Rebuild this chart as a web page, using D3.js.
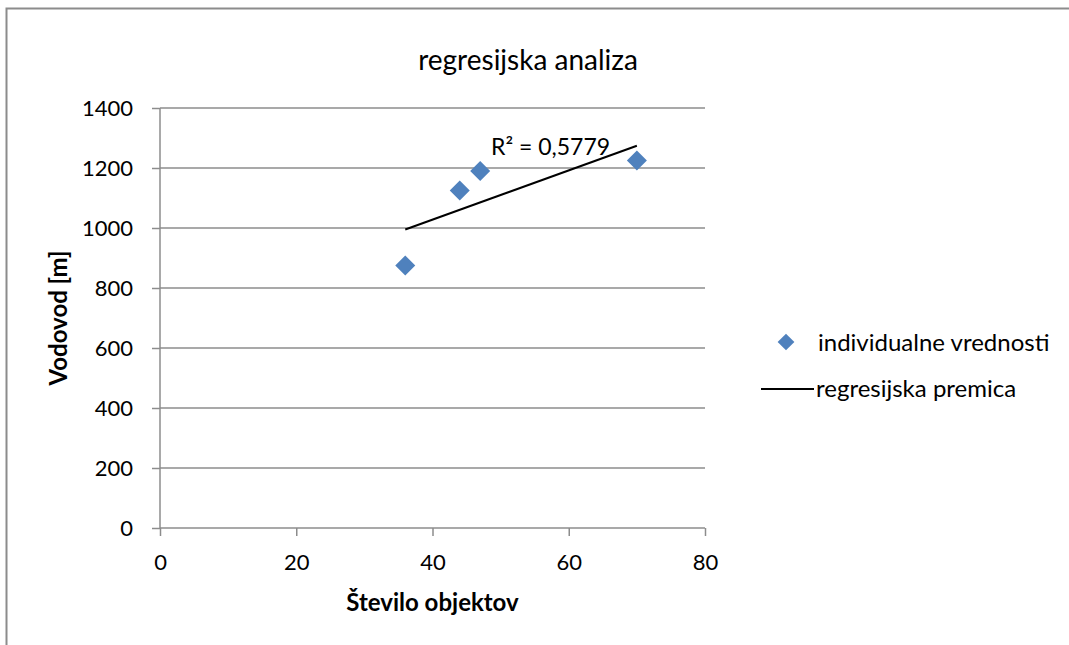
<!DOCTYPE html>
<html><head><meta charset="utf-8">
<script src="https://cdn.jsdelivr.net/npm/d3@7"></script>
<style>
body{margin:0;background:#fff;}
text{font-family:Lato,"Open Sans",sans-serif;fill:#000;}
</style></head>
<body><svg id="c" width="1069" height="645"></svg>
<script>
const title = "regresijska analiza";
const xTitle = "Število objektov";
const yTitle = "Vodovod [m]";
const xTicks = [0, 20, 40, 60, 80];
const yTicks = [0, 200, 400, 600, 800, 1000, 1200, 1400];
const objekti = [36, 44, 47, 70];
const vodovod = [875, 1125, 1190, 1225];
const trendX = [36, 70];
const trendY = [995, 1274];
const r2Label = "R² = 0,5779";
const legendLabels = ["individualne vrednosti", "regresijska premica"];

const svg = d3.select("#c");
svg.append("rect").attr("x",6.5).attr("y",8.5).attr("width",1080).attr("height",660)
  .attr("fill","none").attr("stroke","#8c8c8c").attr("stroke-width",2);

const x = d3.scaleLinear().domain([0,80]).range([160,705]);
const y = d3.scaleLinear().domain([0,1400]).range([528,108]);

// gridlines
svg.append("g").selectAll("line").data(yTicks.filter(d=>d>0)).join("line")
  .attr("x1",x(0)).attr("x2",x(80)).attr("y1",d=>y(d)).attr("y2",d=>y(d))
  .attr("stroke","#8c8c8c").attr("stroke-width",1.5);

const fmt = d3.format("d");
const xa = svg.append("g").attr("transform",`translate(0,${y(0)})`)
  .call(d3.axisBottom(x).tickValues(xTicks).tickFormat(fmt).tickSize(8).tickPadding(18));
const ya = svg.append("g").attr("transform",`translate(${x(0)},0)`)
  .call(d3.axisLeft(y).tickValues(yTicks).tickFormat(fmt).tickSize(8).tickPadding(19));
[xa,ya].forEach(a=>{
  a.selectAll("path,line").attr("stroke","#8c8c8c").attr("stroke-width",1.5);
  a.select(".domain").attr("d", a===xa ? `M${x(0)},0H${x(80)}` : `M0,${y(0)}V${y(1400)}`);
  a.selectAll("text").attr("font-size",22).attr("font-family","Lato,'Open Sans',sans-serif").attr("fill","#000");
});

// trend line
svg.append("line").attr("x1",x(trendX[0])).attr("y1",y(trendY[0]))
  .attr("x2",x(trendX[1])).attr("y2",y(trendY[1])).attr("stroke","#000").attr("stroke-width",2);

// points
const diamond = d3.symbol().type(d3.symbolSquare).size(200);
svg.append("g").selectAll("path").data(objekti.map((d,i)=>[d,vodovod[i]])).join("path")
  .attr("d",diamond).attr("fill","#4f81bd")
  .attr("transform",d=>`translate(${x(d[0])},${y(d[1])}) rotate(45)`);

svg.append("text").attr("x",491).attr("y",155).attr("font-size",23).text(r2Label);

svg.append("text").attr("x",528).attr("y",70).attr("text-anchor","middle").attr("font-size",28).text(title);
svg.append("text").attr("x",x(40)).attr("y",611).attr("text-anchor","middle").attr("font-size",24).attr("font-weight","bold").text(xTitle);
svg.append("text").attr("transform",`translate(67,${y(700)}) rotate(-90)`).attr("text-anchor","middle")
  .attr("font-size",24).attr("font-weight","bold").text(yTitle);

// legend
const lg = svg.append("g");
lg.append("path").attr("d",d3.symbol().type(d3.symbolSquare).size(140))
  .attr("fill","#4f81bd").attr("transform","translate(786,342) rotate(45)");
lg.append("text").attr("x",818).attr("y",351).attr("font-size",24).text(legendLabels[0]);
lg.append("line").attr("x1",761).attr("x2",814).attr("y1",389).attr("y2",389).attr("stroke","#000").attr("stroke-width",2);
lg.append("text").attr("x",816).attr("y",397).attr("font-size",24).text(legendLabels[1]);
</script></body></html>
